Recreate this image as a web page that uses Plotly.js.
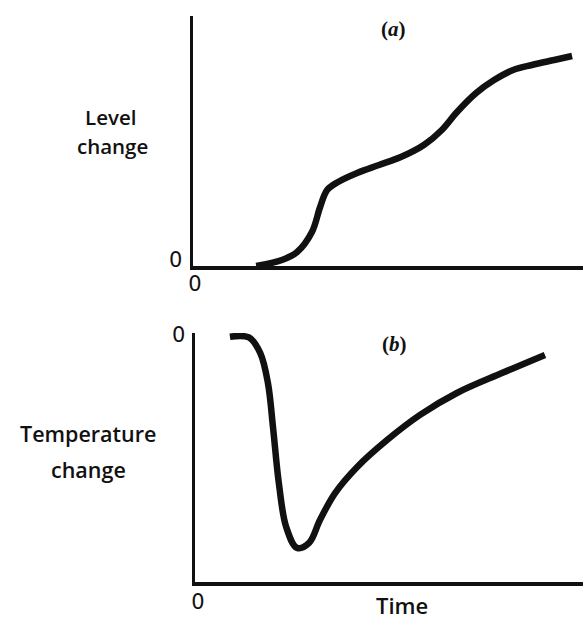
<!DOCTYPE html>
<html>
<head>
<meta charset="utf-8">
<script src="https://cdn.plot.ly/plotly-3.0.1.min.js"></script>
<style>html,body{margin:0;padding:0;background:#fff;}#chart{width:583px;height:619px;}</style>
</head>
<body>
<div id="chart"></div>
<script>
// (a) Level change vs time
const timeA  = [1.62, 2.28, 2.67, 3.05, 3.26, 3.44, 3.72, 4.21, 4.77, 5.33, 5.92, 6.38, 6.77, 7.26, 7.72, 8.21, 8.69, 9.26, 9.72];
const levelA = [0.00, 0.24, 0.56, 1.36, 2.36, 3.04, 3.36, 3.72, 4.04, 4.36, 4.84, 5.44, 6.16, 6.92, 7.44, 7.84, 8.04, 8.24, 8.40];
// (b) Temperature change vs time
const timeB  = [0.90, 1.39, 1.68, 1.88, 2.01, 2.16, 2.35, 2.63, 2.94, 3.22, 3.61, 4.18, 4.95, 5.80, 6.75, 7.91, 9.02];
const tempB  = [-0.15, -0.18, -0.80, -2.01, -3.78, -6.02, -7.79, -8.63, -8.43, -7.51, -6.43, -5.38, -4.30, -3.29, -2.41, -1.61, -0.88];
const zeroTick = ['0'];

const W = 583, H = 619;
const px = v => v / W;
const py = v => 1 - v / H;
const ink = '#111';
const txtFont = {family: 'Open Sans', size: 21.5, color: ink, weight: 600};
const lvlFont = {family: 'Open Sans', size: 20.5, color: ink, weight: 600};

const traces = [
  {x: timeA, y: levelA, xaxis: 'x', yaxis: 'y', mode: 'lines',
   line: {color: ink, width: 6.5, shape: 'spline', smoothing: 1}, hoverinfo: 'skip'},
  {x: timeB, y: tempB, xaxis: 'x2', yaxis: 'y2', mode: 'lines',
   line: {color: ink, width: 6.5, shape: 'spline', smoothing: 1}, hoverinfo: 'skip'}
];

const axBase = {showgrid: false, zeroline: false, showline: true, linecolor: ink, linewidth: 3.5,
  ticks: '', tickvals: [0], ticktext: zeroTick, fixedrange: true,
  tickfont: {family: 'DejaVu Sans', size: 21, color: ink}};

const layout = {
  width: W, height: H,
  margin: {l: 0, r: 0, t: 0, b: 0, pad: 0},
  paper_bgcolor: '#fff', plot_bgcolor: '#fff',
  showlegend: false,
  xaxis:  Object.assign({}, axBase, {domain: [px(193), 1], range: [0, 10], anchor: 'y', ticklabelstandoff: -4, ticklabelshift: 2}),
  yaxis:  Object.assign({}, axBase, {domain: [py(266), py(16)], range: [0, 10], anchor: 'x', ticklabelstandoff: 3, ticklabelshift: -6}),
  xaxis2: Object.assign({}, axBase, {domain: [px(195), 1], range: [0, 10], anchor: 'y2', ticklabelstandoff: -2, ticklabelshift: 3}),
  yaxis2: Object.assign({}, axBase, {domain: [py(582), py(333)], range: [-10, 0], anchor: 'x2', ticklabelstandoff: 2, ticklabelshift: 2}),
  annotations: [
    {text: 'Level', x: px(110), y: py(117.5), xref: 'paper', yref: 'paper', showarrow: false, font: lvlFont, xanchor: 'center', yanchor: 'middle'},
    {text: 'change', x: px(112), y: py(146), xref: 'paper', yref: 'paper', showarrow: false, font: lvlFont, xanchor: 'center', yanchor: 'middle'},
    {text: 'Temperature', x: px(87.5), y: py(433.6), xref: 'paper', yref: 'paper', showarrow: false, font: txtFont, xanchor: 'center', yanchor: 'middle'},
    {text: 'change', x: px(88), y: py(469.6), xref: 'paper', yref: 'paper', showarrow: false, font: txtFont, xanchor: 'center', yanchor: 'middle'},
    {text: 'Time', x: px(402), y: py(605), xref: 'paper', yref: 'paper', showarrow: false, font: {family: 'Open Sans', size: 22, color: ink, weight: 600}, xanchor: 'center', yanchor: 'middle'},
    {text: '<b>(<i>a</i>)</b>', x: px(393), y: py(28.5), xref: 'paper', yref: 'paper', showarrow: false, font: {family: 'Liberation Serif', size: 21, color: ink}, xanchor: 'center', yanchor: 'middle'},
    {text: '<b>(<i>b</i>)</b>', x: px(394), y: py(344), xref: 'paper', yref: 'paper', showarrow: false, font: {family: 'Liberation Serif', size: 21, color: ink}, xanchor: 'center', yanchor: 'middle'}
  ]
};

Plotly.newPlot('chart', traces, layout, {displayModeBar: false, staticPlot: true});
</script>
</body>
</html>
